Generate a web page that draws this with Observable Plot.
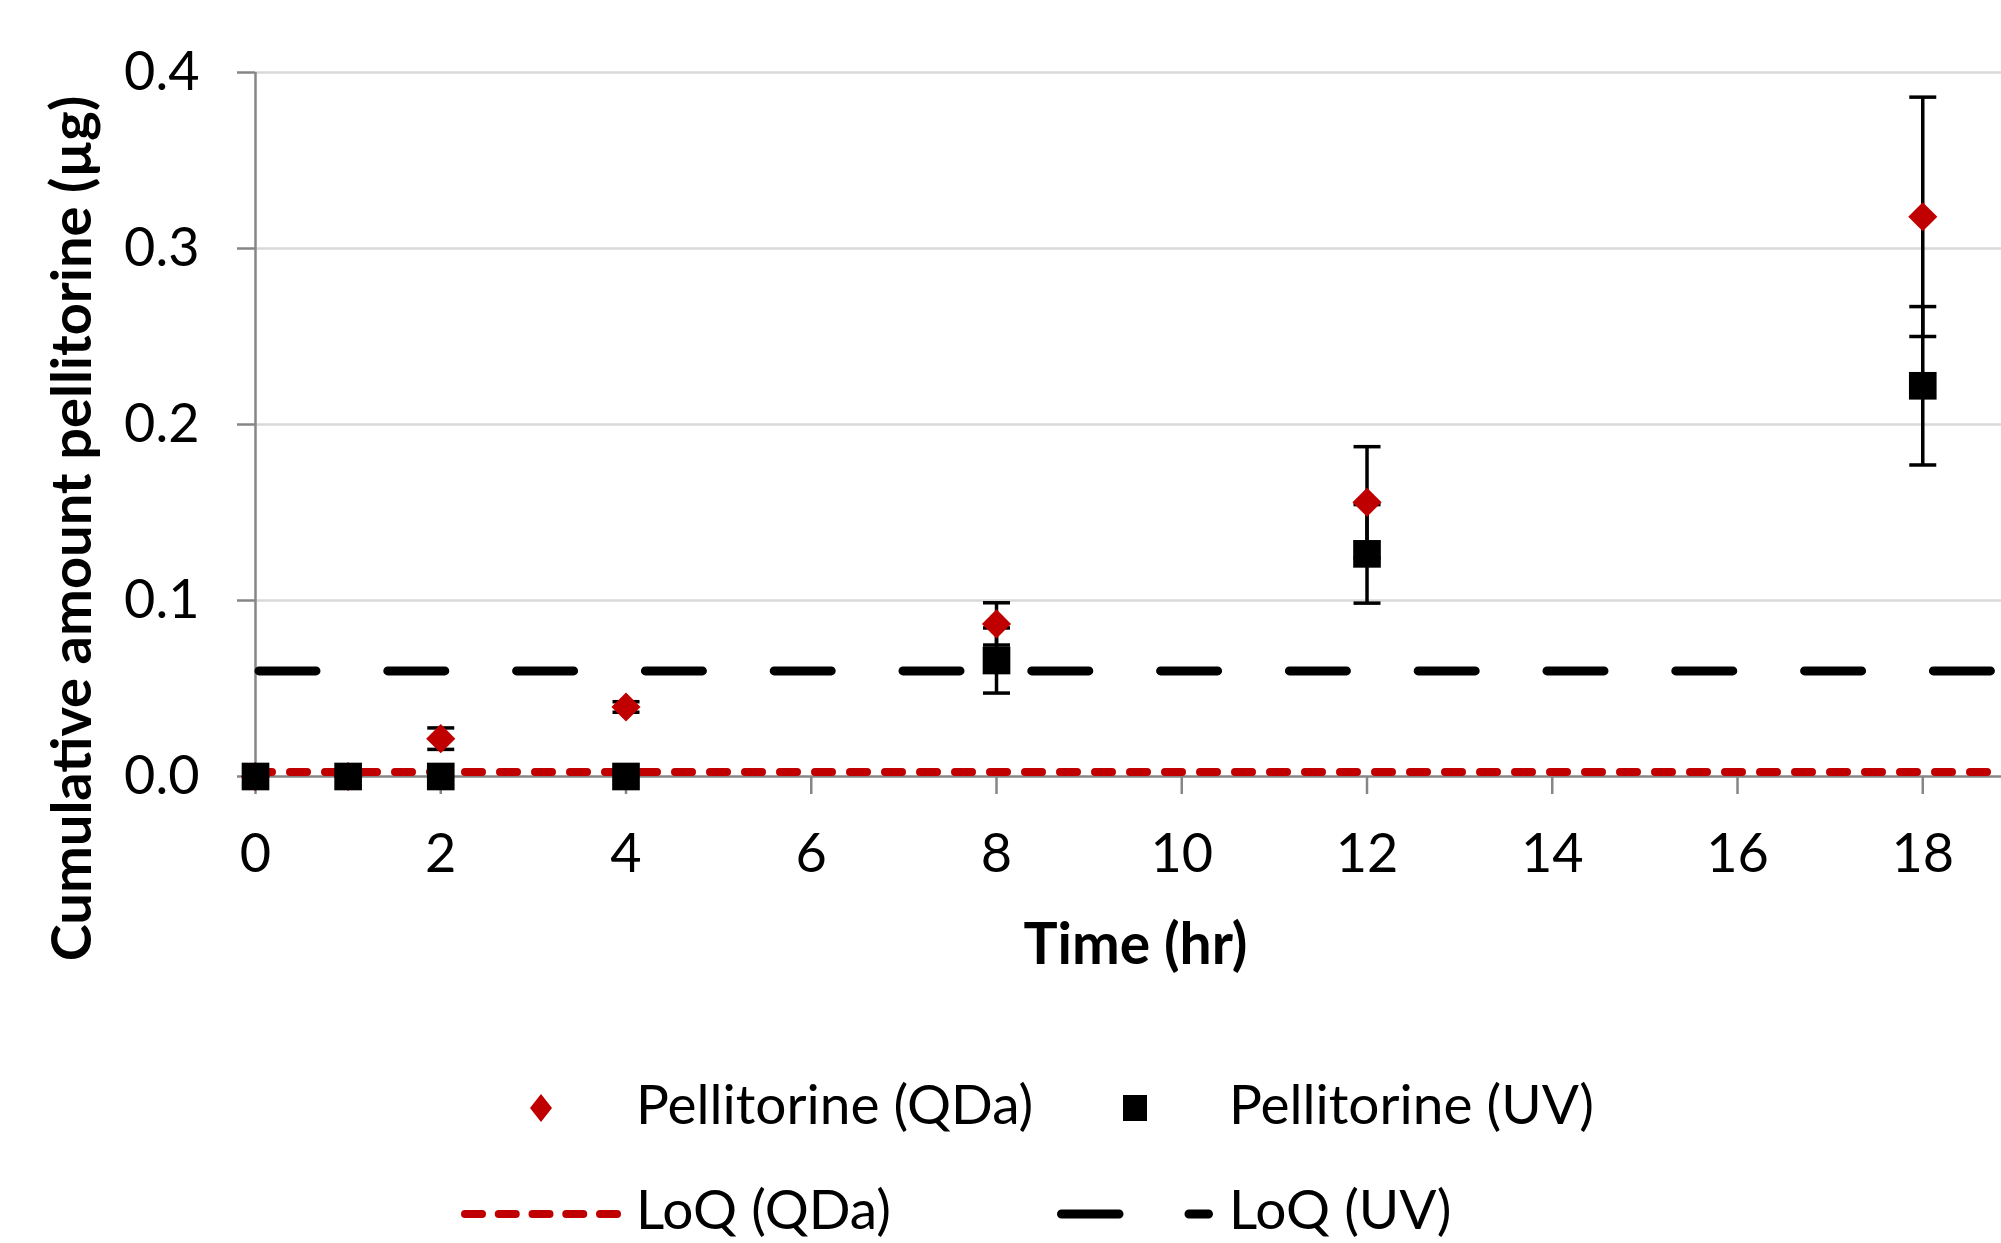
<!DOCTYPE html>
<html>
<head>
<meta charset="utf-8">
<script src="https://cdn.jsdelivr.net/npm/d3@7"></script>
<script src="https://cdn.jsdelivr.net/npm/@observablehq/plot@0.6"></script>
<style>
  html, body { margin: 0; padding: 0; background: #fff; }
  #chart svg, #legend svg { display: block; }
</style>
</head>
<body>
<div id="chart"></div>
<div id="legend"></div>
<script>
// ---- Data ----
const time   = [0, 1, 2, 4, 8, 12, 18];
const qda    = [0, 0, 0.0215, 0.0395, 0.0867, 0.1558, 0.318];
const qdaErr = [0, 0, 0.0061, 0.003, 0.012, 0.0316, 0.068];
const uv     = [0, 0, 0, 0, 0.0659, 0.1265, 0.222];
const uvErr  = [0, 0, 0, 0, 0.0185, 0.028, 0.045];
const qdaLoQ = [0.0025];
const uvLoQ  = [0.06];
const xTicks = [0, 2, 4, 6, 8, 10, 12, 14, 16, 18];
const yTicks = [0, 0.1, 0.2, 0.3, 0.4];
const xTitle = "Time (hr)";
const yTitle = "Cumulative amount pellitorine (µg)";
const legendLabels = ["Pellitorine (QDa)", "Pellitorine (UV)", "LoQ (QDa)", "LoQ (UV)"];

// ---- Build tables ----
const qdaRows = time.map((t, i) => ({t, v: qda[i], e: qdaErr[i]}));
const uvRows  = time.map((t, i) => ({t, v: uv[i], e: uvErr[i]}));
const errRows = [...qdaRows, ...uvRows].filter(d => d.e > 0);
const capRows = errRows.flatMap(d => [{t: d.t, v: d.v + d.e}, {t: d.t, v: d.v - d.e}]);

const capSymbol = {draw(context) { context.moveTo(-13.5, 0); context.lineTo(13.5, 0); }};

const RED = "#C00000";
const AXIS = "#868686";
const FONT = "Lato, 'Open Sans', sans-serif";

const chart = Plot.plot({
  width: 2001,
  height: 1000,
  marginLeft: 255,
  marginRight: 0,
  marginTop: 72,
  marginBottom: 224,
  style: {fontFamily: FONT, background: "white", color: "black", overflow: "visible"},
  x: {domain: [0, 18.85]},
  y: {domain: [0, 0.4]},
  marks: [
    Plot.gridY(yTicks.filter(d => d > 0), {stroke: "#d9d9d9", strokeOpacity: 1, strokeWidth: 2.5}),
    Plot.axisY(yTicks, {tickSize: 18, tickPadding: 38, tickFormat: d3.format(".1f"), fontSize: 54,
      stroke: AXIS, strokeWidth: 2.5, fill: "black", label: null}),
    Plot.axisX(xTicks, {tickSize: 18, tickPadding: 39, fontSize: 54,
      stroke: AXIS, strokeWidth: 2.5, fill: "black", label: null}),
    Plot.ruleX([0], {y1: yTicks[0], y2: yTicks[yTicks.length - 1], stroke: AXIS, strokeWidth: 2.5}),
    Plot.ruleY([0], {stroke: AXIS, strokeWidth: 2.5}),
    Plot.ruleY(uvLoQ, {stroke: "black", strokeWidth: 9, strokeDasharray: "57,71.8",
      strokeDashoffset: -4, strokeLinecap: "round"}),
    Plot.ruleY(qdaLoQ, {stroke: RED, strokeWidth: 8, strokeDasharray: "17,18", strokeLinecap: "round"}),
    Plot.ruleX(errRows, {x: "t", y1: d => d.v - d.e, y2: d => d.v + d.e, stroke: "black", strokeWidth: 3.5}),
    Plot.dot(capRows, {x: "t", y: "v", symbol: capSymbol, r: 1, fill: "none", stroke: "black", strokeWidth: 3.5}),
    Plot.dot(qdaRows, {x: "t", y: "v", symbol: "diamond2", r: 13.1, fill: RED, stroke: "none"}),
    Plot.dot(uvRows, {x: "t", y: "v", symbol: "square", r: 15.6, fill: "black", stroke: "none"}),
    Plot.text([xTitle], {text: d => d, frameAnchor: "bottom", lineAnchor: "bottom", dx: 7, dy: 187,
      fontSize: 57, fontWeight: "bold", fill: "black"}),
    Plot.text([yTitle], {text: d => d, frameAnchor: "left", rotate: -90, lineAnchor: "bottom",
      textAnchor: "middle", dx: -165, dy: 104, fontSize: 56, fontWeight: "bold", fill: "black"})
  ]
});
document.getElementById("chart").appendChild(chart);

// ---- Legend (below the plot) ----
const lg = d3.select("#legend").append("svg")
  .attr("width", 2001).attr("height", 243)
  .style("font-family", FONT);

// Row 1 markers
lg.append("path").attr("d", "M541,94 L552,108 L541,122 L530,108 Z").attr("fill", RED);
lg.append("rect").attr("x", 1123).attr("y", 95).attr("width", 24).attr("height", 26).attr("fill", "black");
// Row 2 line samples
lg.append("line").attr("x1", 465).attr("x2", 617).attr("y1", 214).attr("y2", 214)
  .attr("stroke", RED).attr("stroke-width", 8).attr("stroke-linecap", "round")
  .attr("stroke-dasharray", "17,16.75");
lg.append("line").attr("x1", 1061.5).attr("x2", 1208.5).attr("y1", 214).attr("y2", 214)
  .attr("stroke", "black").attr("stroke-width", 9).attr("stroke-linecap", "round")
  .attr("stroke-dasharray", "57.5,70");

const legendPos = [[636, 124], [1229, 124], [636, 229], [1229, 229]];
lg.selectAll("text.lab").data(legendLabels).join("text")
  .attr("class", "lab")
  .attr("x", (d, i) => legendPos[i][0])
  .attr("y", (d, i) => legendPos[i][1])
  .attr("font-size", 55)
  .attr("fill", "black")
  .text(d => d);
</script>
</body>
</html>
